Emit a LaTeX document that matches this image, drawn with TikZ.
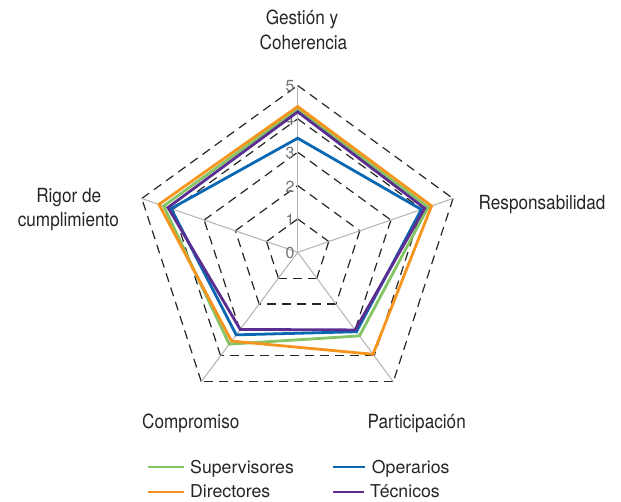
\documentclass[tikz,border=0pt]{standalone}
\usepackage{fontspec}
\setmainfont{TeX Gyre Heros}
\newfontfamily\condfont[FakeStretch=0.88]{TeX Gyre Heros}
\usetikzlibrary{calc}
\definecolor{cSup}{HTML}{84C464}
\definecolor{cDir}{HTML}{F7941D}
\definecolor{cOpe}{HTML}{0A67B2}
\definecolor{cTec}{HTML}{5C2D91}
\definecolor{txt}{HTML}{262626}
\begin{document}
\begin{tikzpicture}[x=1pt,y=-1pt,
  ringline/.style={draw=black!85, line width=1.2pt, dash pattern=on 9pt off 6pt},
  axisline/.style={draw=black!30, line width=1pt},
  series/.style={line width=2.8pt, line join=miter},
  legline/.style={line width=2.4pt},
  lbl/.style={font=\condfont\fontsize{19.5}{23}\selectfont, text=txt, inner sep=0pt, anchor=base},
  num/.style={font=\fontsize{16}{18}\selectfont, text=black!55, inner sep=0pt, anchor=east},
  leg/.style={font=\fontsize{17.7}{20}\selectfont, text=txt, inner sep=0pt, anchor=base west}]
\useasboundingbox (0,0) rectangle (621,502);
% centre and axis ends (value 5)
\coordinate (C)  at (297.7,252.3);
\coordinate (V1) at (297.7,85.5);
\coordinate (V2) at (453,198.5);
\coordinate (V3) at (393.3,381.7);
\coordinate (V4) at (201.3,381.7);
\coordinate (V5) at (141.8,198.5);
% dashed rings
\foreach \k in {1,...,5}{
  \draw[ringline] ($(C)!\k/5!(V1)$) -- ($(C)!\k/5!(V2)$);
  \draw[ringline] ($(C)!\k/5!(V2)$) -- ($(C)!\k/5!(V3)$);
  \draw[ringline] ($(C)!\k/5!(V3)$) -- ($(C)!\k/5!(V4)$);
  \draw[ringline] ($(C)!\k/5!(V4)$) -- ($(C)!\k/5!(V5)$);
  \draw[ringline] ($(C)!\k/5!(V5)$) -- ($(C)!\k/5!(V1)$);
}
% axes
\foreach \v in {V1,V2,V3,V4,V5}{ \draw[axisline] (C) -- (\v); }
% value labels
\foreach \k in {0,...,5}{
  \node[num] (n\k) at ($(C)!\k/5!(V1)+(-3,1)$) {\k};
}
% series
\draw[series,cSup] ($(C)!4.29/5!(V1)$) -- ($(C)!4.20/5!(V2)$) -- ($(C)!3.23/5!(V3)$) -- ($(C)!3.55/5!(V4)$) -- ($(C)!4.30/5!(V5)$) -- cycle;
\draw[series,cDir] ($(C)!4.37/5!(V1)$) -- ($(C)!4.31/5!(V2)$) -- ($(C)!3.94/5!(V3)$) -- ($(C)!3.43/5!(V4)$) -- ($(C)!4.45/5!(V5)$) -- cycle;
\draw[series,cOpe] ($(C)!3.42/5!(V1)$) -- ($(C)!3.98/5!(V2)$) -- ($(C)!3.07/5!(V3)$) -- ($(C)!3.19/5!(V4)$) -- ($(C)!4.06/5!(V5)$) -- cycle;
\draw[series,cTec] ($(C)!4.21/5!(V1)$) -- ($(C)!4.09/5!(V2)$) -- ($(C)!3.00/5!(V3)$) -- ($(C)!2.98/5!(V4)$) -- ($(C)!4.16/5!(V5)$) -- cycle;
% category labels
\node[lbl] (g1) at (302,24.3) {Gestión y};
\node[lbl] (g2) at (303.5,49.3) {Coherencia};
\node[lbl] (r) at (542,209.3) {Responsabilidad};
\node[lbl] (p) at (416.7,428.3) {Participación};
\node[lbl] (c) at (190.8,428.3) {Compromiso};
\node[lbl] (ri1) at (68.7,202.3) {Rigor de};
\node[lbl] (ri2) at (68.3,226.3) {cumplimiento};
% legend
\coordinate (l1a) at (148,466.7); \coordinate (l1b) at (184,466.7);
\coordinate (l2a) at (148,492);   \coordinate (l2b) at (184,492);
\coordinate (l3a) at (333,466.7); \coordinate (l3b) at (365,466.7);
\coordinate (l4a) at (333,492);   \coordinate (l4b) at (364,492);
\draw[legline,cSup] (l1a) -- (l1b);
\draw[legline,cDir] (l2a) -- (l2b);
\draw[legline,cOpe] (l3a) -- (l3b);
\draw[legline,cTec] (l4a) -- (l4b);
\node[leg] (t1) at (190,473.3) {Supervisores};
\node[leg] (t2) at (190,497.3) {Directores};
\node[leg] (t3) at (371.7,473.3) {Operarios};
\node[leg] (t4) at (370,497.3) {Técnicos};
\end{tikzpicture}
\end{document}
